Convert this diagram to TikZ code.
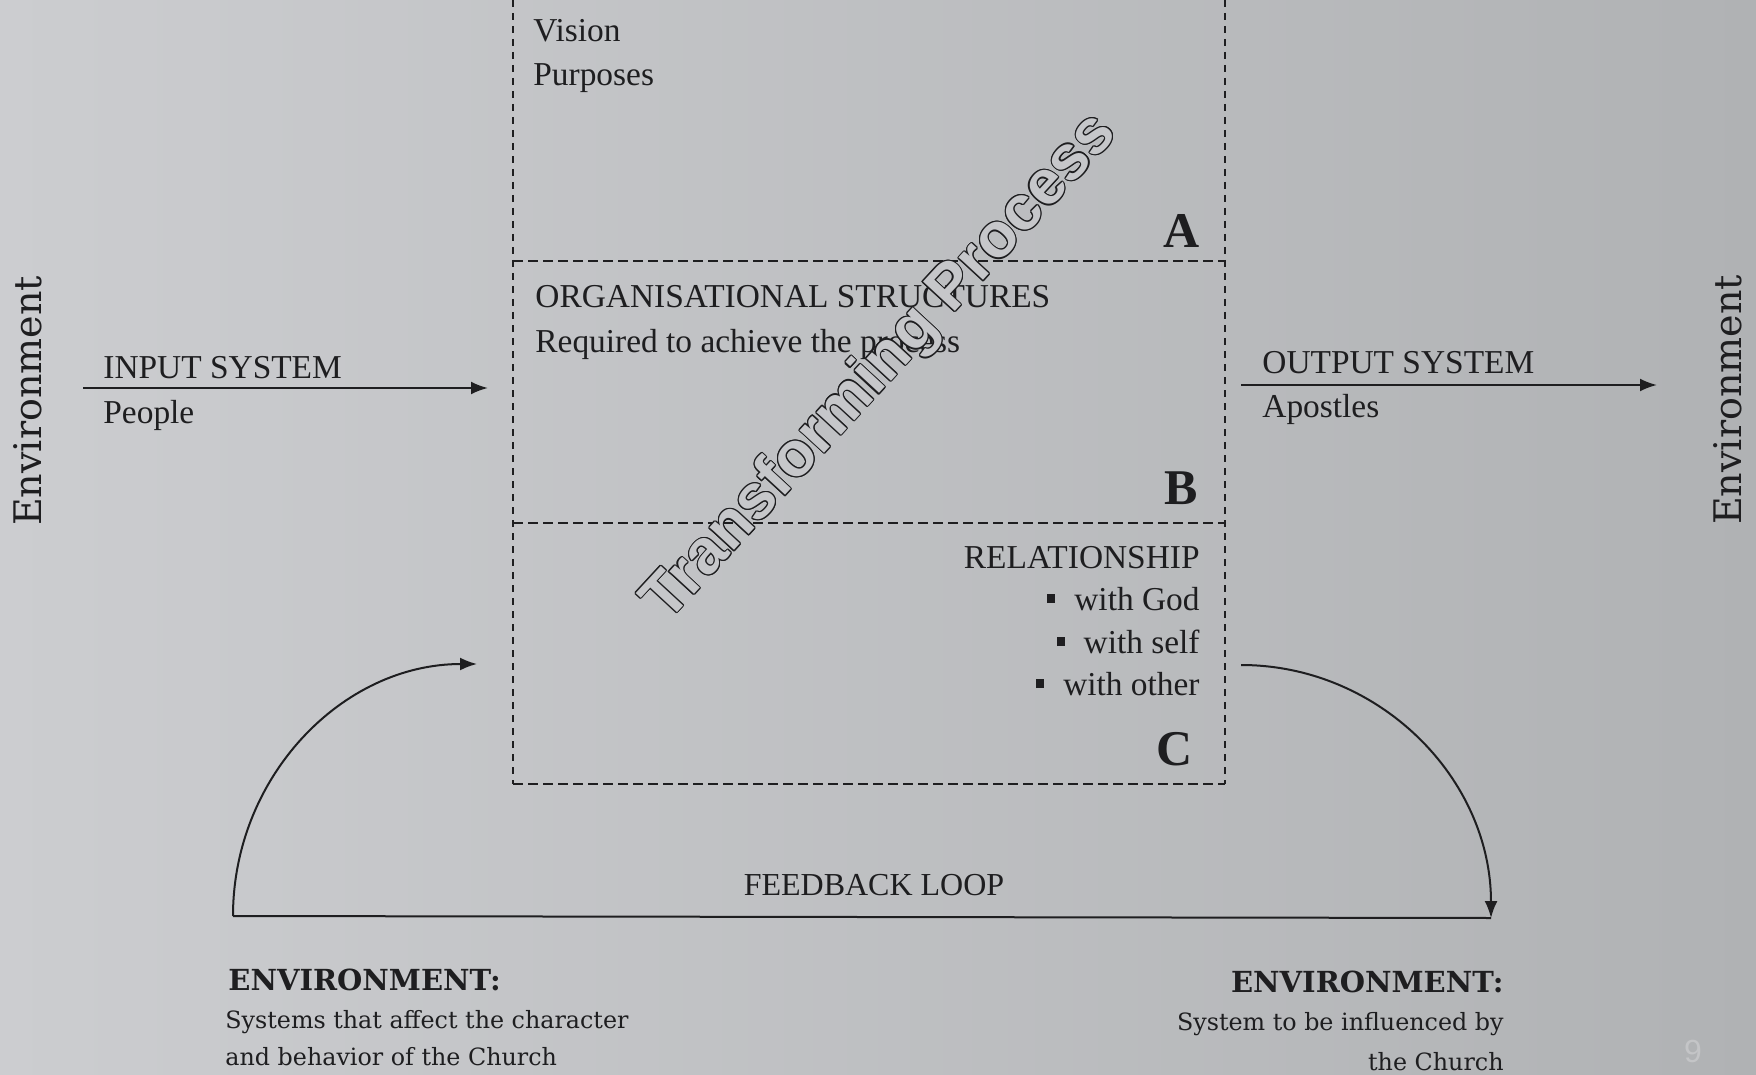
\documentclass[tikz,border=0pt]{standalone}
\usepackage{fontspec}
\setmainfont{Liberation Serif}
\newfontfamily\envfont{DejaVu Serif}
\newfontfamily\tpfont{Liberation Sans}
\usetikzlibrary{arrows.meta,calc}

\definecolor{paperL}{RGB}{204,205,208}
\definecolor{paperM}{RGB}{198,199,202}
\definecolor{paperR}{RGB}{176,178,180}
\definecolor{ink}{RGB}{30,30,32}

\newcommand\sqb{\rule[3.5pt]{4pt}{4.5pt}\hspace{9.5pt}}

\tikzset{
	boxline/.style={ink, line width=1pt, dash pattern=on 5pt off 2.5pt},
	sideline/.style={ink, line width=1pt, dash pattern=on 3.5pt off 3pt},
	flow/.style={ink, line width=1.1pt, -{Latex[length=8.5pt,width=6.5pt]}},
	loopline/.style={ink, line width=1pt},
	lbl/.style={inner sep=0pt, text=ink, font=\fontsize{16.7}{20}\selectfont},
	letter/.style={inner sep=0pt, text=ink, font=\bfseries\fontsize{25}{25}\selectfont},
	envside/.style={inner sep=0pt, text=ink, rotate=90, font=\envfont\fontsize{19}{19}\selectfont},
	envhead/.style={inner sep=0pt, text=ink, font=\envfont\bfseries\fontsize{14.5}{15}\selectfont},
	envtext/.style={inner sep=0pt, text=ink, font=\envfont\fontsize{11.9}{14}\selectfont},
	tpword/.style={inner sep=0pt, rotate=47.3, font=\tpfont\bfseries\fontsize{31.5}{31.5}\selectfont}
}

\begin{document}
\begin{tikzpicture}[x=0.5pt,y=-0.5pt]
	\useasboundingbox (0,0) rectangle (1756,1075);
	\shade[left color=paperL, middle color=paperM, right color=paperR] (0,0) rectangle (1756,1075);
	
	% the three boxes A, B, C
	\coordinate (TL) at (513,0);   \coordinate (TR) at (1225,0);
	\coordinate (AL) at (513,261); \coordinate (AR) at (1225,261);
	\coordinate (BL) at (513,523); \coordinate (BR) at (1225,523);
	\coordinate (CL) at (513,784); \coordinate (CR) at (1225,784);
	\draw[sideline] (TL)--(CL) (TR)--(CR);
	\draw[boxline] (AL)--(AR) (BL)--(BR) (CL)--(CR);
	
	\node[lbl, anchor=base west] (vis) at (533,42) {Vision};
	\node[lbl, anchor=base west] (pur) at (533,86) {Purposes};
	\node[letter, anchor=base east] (la) at (1200,248) {A};
	
	\node[lbl, anchor=base west] (org) at (535,307) {ORGANISATIONAL STRUCTURES};
	\node[lbl, anchor=base west] (req) at (535,352) {Required to achieve the process};
	\node[letter, anchor=base east] (lb) at (1198,504) {B};
	
	\node[lbl, anchor=base east] (rel) at (1200,568) {RELATIONSHIP};
	\node[lbl, anchor=base east] (god) at (1200,610) {\sqb with God};
	\node[lbl, anchor=base east] (self) at (1200,653) {\sqb with self};
	\node[lbl, anchor=base east] (oth) at (1200,695) {\sqb with other};
	\node[letter, anchor=base east] (lc) at (1193,765) {C};
	
	% input and output
	\coordinate (inS) at (83,388);   \coordinate (inE) at (488,388);
	\coordinate (outS) at (1241,385); \coordinate (outE) at (1657,385);
	\draw[flow] (inS) -- (inE);
	\draw[flow] (outS) -- (outE);
	\node[lbl, anchor=base west] (inT) at (103,379) {INPUT SYSTEM};
	\node[lbl, anchor=base west] (inP) at (103,423) {People};
	\node[lbl, anchor=base west] (outT) at (1262,373) {OUTPUT SYSTEM};
	\node[lbl, anchor=base west] (outA) at (1262,417) {Apostles};
	
	\node[envside] (envL) at (28,401) {Environment};
	\node[envside] (envR) at (1728,400) {Environment};
	
	% feedback loop
	\coordinate (fbL) at (233,916);  \coordinate (fbR) at (1491,918);
	\coordinate (fbIn) at (477,664); \coordinate (fbOut) at (1241,665);
	\draw[loopline] (fbL) -- (fbR);
	\draw[flow, line width=1pt] (fbL) .. controls (233,777) and (342,664) .. (fbIn);
	\draw[flow, line width=1pt] (fbOut) .. controls (1379,665) and (1491,778) .. (fbR);
	\node[lbl, anchor=base, font=\fontsize{16}{16}\selectfont] (fbT) at (874,895) {FEEDBACK LOOP};
	
	\node[envhead, anchor=base west] (envInH) at (228,990) {ENVIRONMENT:};
	\node[envtext, anchor=base west] (envIn1) at (225,1028) {Systems that affect the character};
	\node[envtext, anchor=base west] (envIn2) at (225,1065) {and behavior of the Church};
	\node[envhead, anchor=base east] (envOutH) at (1504,992) {ENVIRONMENT:};
	\node[envtext, anchor=base east] (envOut1) at (1504,1030) {System to be influenced by};
	\node[envtext, anchor=base east] (envOut2) at (1504,1070) {the Church};
	
	% outlined diagonal word
	\coordinate (tpc) at (881,368);
	\foreach \a in {0,30,...,330}
		\node[tpword, text=ink] (tpo\a) at ($(tpc)+(\a:0.6pt)$) {Transforming Process};
	\node[tpword, text=paperM] (tp) at (tpc) {Transforming Process};
	
	\node[anchor=base, inner sep=0pt, text=paperR!75!white, font=\tpfont\fontsize{16}{16}\selectfont] (pg) at (1693,1062) {9};
\end{tikzpicture}
\end{document}
